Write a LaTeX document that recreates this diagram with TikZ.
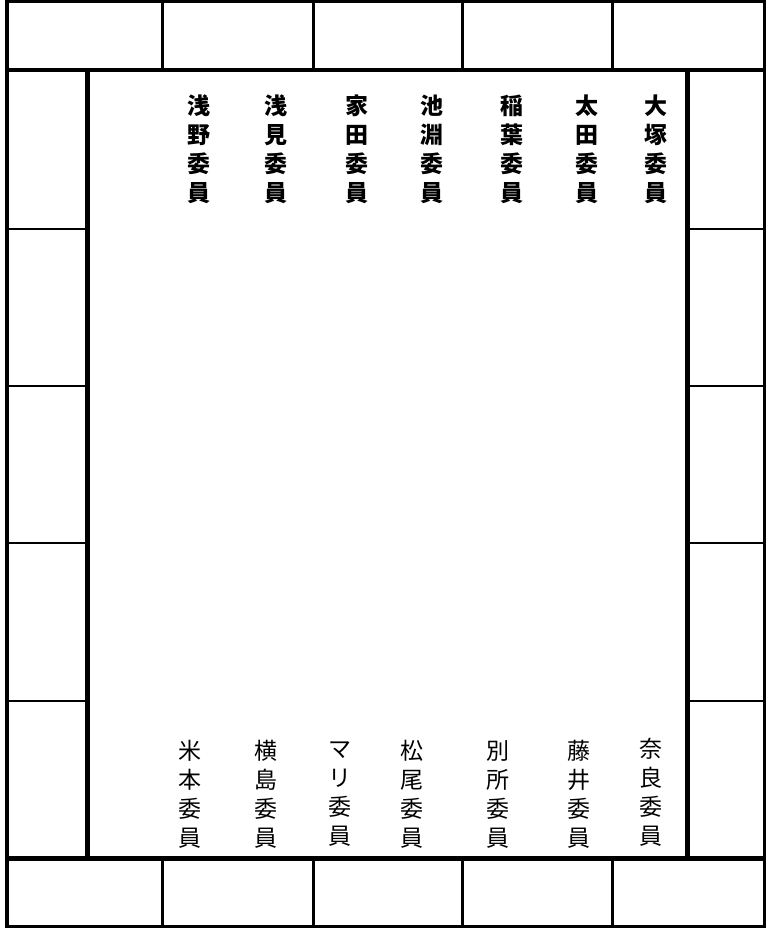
\documentclass[tikz,border=0pt]{standalone}
\usepackage{fontspec}
\newfontfamily\cjk{Noto Sans CJK JP}
\begin{document}
\begin{tikzpicture}[x=1pt,y=-1pt,
  bordline/.style={line width=4pt},
  heavyline/.style={line width=4.7pt},
  divline/.style={line width=3.2pt},
  rowline/.style={line width=2.5pt},
  topname/.style={inner sep=0pt,align=center,font=\cjk\bfseries\fontsize{23}{29}\selectfont},
  botname/.style={inner sep=0pt,align=center,font=\cjk\fontsize{23}{29}\selectfont}]
\useasboundingbox (0,0) rectangle (765,928);
% frame
\draw[bordline] (7,1.5) rectangle (765,926.5);
\draw[heavyline] (7,70) -- (765,70);
\draw[heavyline] (7,858.5) -- (765,858.5);
\draw[heavyline] (87.5,70) -- (87.5,858.5);
\draw[heavyline] (687.5,70) -- (687.5,858.5);
% top and bottom row dividers
\foreach \x in {162.5,313.5,462.5,612.5} {
  \draw[divline] (\x,1.5) -- (\x,70);
  \draw[divline] (\x,858.5) -- (\x,926.5);
}
% side column dividers
\foreach \y in {229,386,543,701} {
  \draw[rowline] (7,\y) -- (87.5,\y);
  \draw[rowline] (687.5,\y) -- (765,\y);
}
% top names
\node[topname] (t1) at (199,149) {浅\\野\\委\\員};
\node[topname] (t2) at (276,149) {浅\\見\\委\\員};
\node[topname] (t3) at (357,149) {家\\田\\委\\員};
\node[topname] (t4) at (432,149) {池\\淵\\委\\員};
\node[topname] (t5) at (512,149) {稲\\葉\\委\\員};
\node[topname] (t6) at (587,149) {太\\田\\委\\員};
\node[topname] (t7) at (656,149) {大\\塚\\委\\員};
% bottom names
\node[botname] (b1) at (190,794) {米\\本\\委\\員};
\node[botname] (b2) at (266,794) {横\\島\\委\\員};
\node[botname] (b3) at (340,794) {マ\\リ\\委\\員};
\node[botname] (b4) at (412,794) {松\\尾\\委\\員};
\node[botname] (b5) at (498,794) {別\\所\\委\\員};
\node[botname] (b6) at (579,794) {藤\\井\\委\\員};
\node[botname] (b7) at (651,792) {奈\\良\\委\\員};
\end{tikzpicture}
\end{document}
